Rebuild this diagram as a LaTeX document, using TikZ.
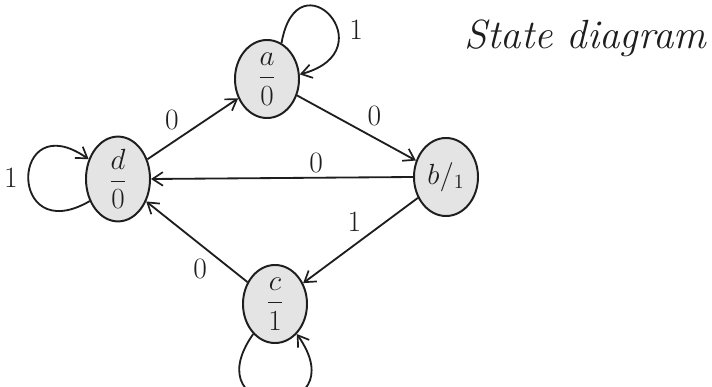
\documentclass[tikz,border=0pt]{standalone}
\usepackage{amsmath,amssymb}
\usetikzlibrary{arrows.meta,shapes.geometric}
\definecolor{ink}{HTML}{1E1E1E}
\definecolor{shade}{HTML}{E4E4E4}
\tikzset{
  title/.style={font=\itshape\fontsize{29}{33}\selectfont,text=ink,anchor=west},
  state/.style={ellipse,draw=ink,fill=shade,line width=1.4pt,inner sep=0pt,minimum width=1.6cm,minimum height=1.95cm,font=\fontsize{20}{24}\selectfont,text=ink},
  lbl/.style={font=\fontsize{21}{24}\selectfont,text=ink,inner sep=3pt},
  arr/.style={-{Straight Barb[length=2.6mm,width=3.4mm,line width=1.2pt]},draw=ink,line width=1.3pt},
  selfloop/.style={arr,looseness=1}
}
\begin{document}
\begin{tikzpicture}[x=0.025cm,y=-0.025cm]
\path[use as bounding box,fill=white] (0,0) rectangle (712,387);
\node[title] (ttl) at (460,38) {State diagram};
\node[state] (a) at (267,79) {$\dfrac{a}{0}$};
\node[state] (b) at (446,177) {$b/_{1}$};
\node[state] (c) at (275,304) {$\dfrac{c}{1}$};
\node[state] (d) at (118,179) {$\dfrac{d}{0}$};
\draw[arr] (d)-- node[lbl,above left,pos=0.4] {0} (a); \draw[arr] (a)-- node[lbl,above right,pos=0.55] {0} (b);
\draw[arr] (b.180)-- node[lbl,above,pos=0.37] {0} (d.0); \draw[arr] (b)-- node[lbl,above left,pos=0.45] {1} (c);
\draw[arr] (c)-- node[lbl,below left,pos=0.35] {0} (d);
\draw[selfloop] (a.68) to[out=80,in=15,out distance=2.3cm,in distance=2.3cm] node[lbl,right,pos=0.62,xshift=5pt] {1} (a.8);
\draw[selfloop] (d.218) to[out=210,in=145,out distance=2.4cm,in distance=2.4cm] node[lbl,left,pos=0.5,xshift=-4pt] {1} (d.146);
\draw[selfloop] (c.234) to[out=235,in=305,out distance=2.7cm,in distance=2.7cm] (c.306);
\end{tikzpicture}
\end{document}
